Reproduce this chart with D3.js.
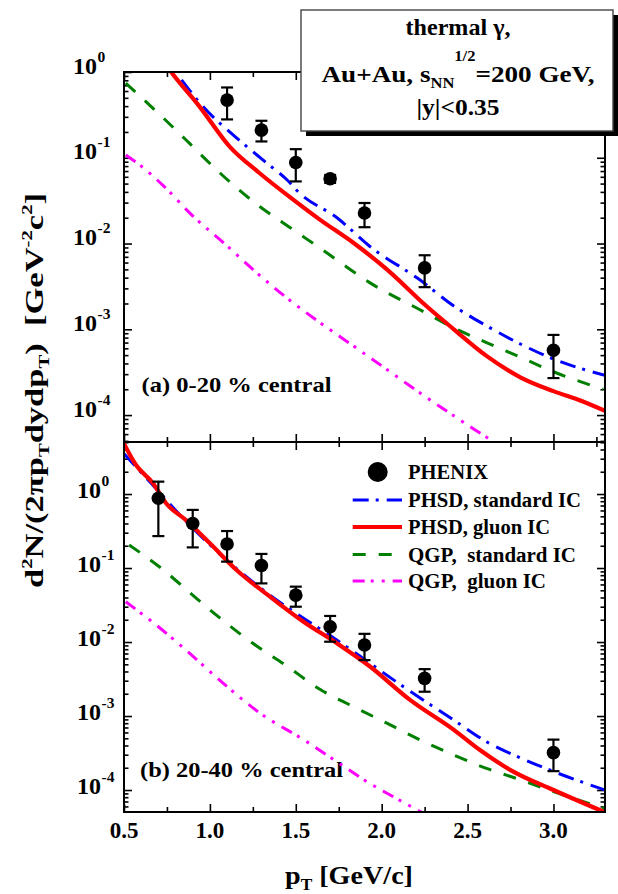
<!DOCTYPE html>
<html><head><meta charset="utf-8">
<script src="https://cdn.jsdelivr.net/npm/d3@7"></script>
<style>
body{margin:0;background:#fff}
svg{display:block}
text{font-family:"Liberation Serif","Times New Roman",serif;font-weight:bold;fill:#000;white-space:pre}
</style>
</head><body><svg id="c" width="618" height="894"></svg>
<script>
// ---------- data ----------
const xTickMajor = [0.5, 1.0, 1.5, 2.0, 2.5, 3.0];
const xTickLabels = ["0.5", "1.0", "1.5", "2.0", "2.5", "3.0"];
const xTickMinor = [0.75, 1.25, 1.75, 2.25, 2.75, 3.25];
const yDecades = [0, -1, -2, -3, -4];

// panel (a) 0-20 % central : PHENIX data
const ptA = [1.1, 1.3, 1.5, 1.7, 1.9, 2.25, 3.0];
const yA = [0.47, 0.21, 0.088, 0.057, 0.0227, 0.0052, 5.7e-4];
const yAhi = [0.66, 0.27, 0.126, 0.063, 0.0297, 0.0073, 8.6e-4];
const yAlo = [0.28, 0.155, 0.053, 0.051, 0.0155, 0.0031, 2.7e-4];

// panel (a) curves
const phsdStdA_pt = [0.835, 0.96, 1.135, 1.33, 1.45, 1.52, 1.74, 1.93, 2.22, 2.42, 2.61, 2.81, 3.0, 3.3];
const phsdStdA_y = [0.81, 0.395, 0.185, 0.087, 0.055, 0.039, 0.020, 0.0093, 0.0038, 0.00187, 0.0011, 6.7e-4, 4.5e-4, 2.9e-4];
const phsdGluA_pt = [0.76, 0.775, 0.94, 1.115, 1.29, 1.485, 1.64, 1.835, 2.03, 2.26, 2.42, 2.61, 2.81, 3.0, 3.16, 3.3];
const phsdGluA_y = [1.1, 1.0, 0.395, 0.135, 0.066, 0.0325, 0.019, 0.0102, 0.005, 0.00187, 0.001, 4.9e-4, 2.74e-4, 1.9e-4, 1.47e-4, 1.12e-4];
const qgpStdA_pt = [0.51, 0.71, 0.86, 1.06, 1.29, 1.485, 1.68, 1.93, 2.22, 2.42, 2.61, 2.81, 3.0, 3.29];
const qgpStdA_y = [0.74, 0.316, 0.162, 0.066, 0.027, 0.0145, 0.0078, 0.0035, 0.0017, 0.00104, 7.0e-4, 4.7e-4, 3.2e-4, 2.0e-4];
const qgpGluA_pt = [0.51, 0.59, 0.73, 0.90, 1.08, 1.25, 1.45, 1.64, 1.835, 2.03, 2.22, 2.42, 2.535, 2.65];
const qgpGluA_y = [0.108, 0.083, 0.047, 0.021, 0.0102, 0.005, 0.0023, 0.0012, 6.4e-4, 3.4e-4, 1.83e-4, 9.8e-5, 6.9e-5, 4.9e-5];

// panel (b) 20-40 % central : PHENIX data
const ptB = [0.7, 0.9, 1.1, 1.3, 1.5, 1.7, 1.9, 2.25, 3.0];
const yB = [0.875, 0.40, 0.211, 0.108, 0.043, 0.0161, 0.0091, 0.00323, 3.2e-4];
const yBhi = [1.47, 0.61, 0.316, 0.155, 0.056, 0.0225, 0.0129, 0.0043, 4.8e-4];
const yBlo = [0.27, 0.19, 0.122, 0.062, 0.030, 0.0101, 0.0057, 0.00213, 1.8e-4];

// panel (b) curves
const phsdStdB_pt = [0.5, 0.67, 0.86, 1.155, 1.35, 1.545, 1.74, 1.93, 2.125, 2.42, 2.61, 2.81, 3.0, 3.3];
const phsdStdB_y = [3.5, 1.3, 0.43, 0.098, 0.043, 0.021, 0.0106, 0.0052, 0.0025, 8.8e-4, 4.5e-4, 2.7e-4, 1.78e-4, 1.0e-4];
const phsdGluB_pt = [0.5, 0.57, 0.67, 0.745, 0.86, 1.0, 1.155, 1.35, 1.545, 1.74, 1.93, 2.165, 2.42, 2.57, 2.75, 3.0, 3.3];
const phsdGluB_y = [4.8, 2.47, 1.39, 0.75, 0.445, 0.216, 0.094, 0.041, 0.0188, 0.0096, 0.0047, 0.00165, 6.5e-4, 3.5e-4, 1.86e-4, 1.0e-4, 5.0e-5];
const qgpStdB_pt = [0.53, 0.73, 0.90, 1.06, 1.25, 1.45, 1.64, 1.835, 2.03, 2.22, 2.42, 2.61, 2.81, 3.0, 3.3];
const qgpStdB_y = [0.205, 0.094, 0.043, 0.021, 0.0096, 0.0047, 0.0023, 0.00134, 8.0e-4, 4.8e-4, 2.97e-4, 1.96e-4, 1.37e-4, 9.5e-5, 5.6e-5];
const qgpGluB_pt = [0.51, 0.70, 0.86, 1.10, 1.29, 1.545, 1.74, 1.93, 2.085, 2.24];
const qgpGluB_y = [0.035, 0.0161, 0.0078, 0.0025, 0.0011, 4.8e-4, 2.4e-4, 1.23e-4, 7.7e-5, 4.9e-5];

const seriesNames = ["PHENIX", "PHSD, standard IC", "PHSD, gluon IC", "QGP,  standard IC", "QGP,  gluon IC"];

// ---------- styles ----------
const styles = {
  std:  {color: "#0000ff", width: 3, dash: "16,7,3,8"},
  glu:  {color: "#ff0000", width: 4.2, dash: null},
  qstd: {color: "#007f00", width: 3, dash: "13,13"},
  qglu: {color: "#ff00ff", width: 3, dash: "12,6,3,8,3,8"}
};
const legendWidths = [80, 173, 142, 168, 138];

const svg = d3.select("#c");
const L = 124, R = 605;
const x = d3.scaleLinear().domain([0.5, 3.3]).range([L, R]);

function fit(sel, len) { return sel.attr("textLength", len).attr("lengthAdjust", "spacingAndGlyphs"); }

const panels = [
  {top: 72, bot: 442, y: d3.scaleLog().domain([Math.pow(10, -4.314), 1]).range([442, 72]),
   pt: ptA, val: yA, hi: yAhi, lo: yAlo, labEnd: 97, labDy: 1.5,
   curves: [["qglu", qgpGluA_pt, qgpGluA_y], ["qstd", qgpStdA_pt, qgpStdA_y], ["std", phsdStdA_pt, phsdStdA_y], ["glu", phsdGluA_pt, phsdGluA_y]],
   label: "(a) 0-20 % central", lx: 141.5, ly: 391.5, lw: 190},
  {top: 442, bot: 812, y: d3.scaleLog().domain([Math.pow(10, -4.297), Math.pow(10, 0.703)]).range([812, 442]),
   pt: ptB, val: yB, hi: yBhi, lo: yBlo, labEnd: 101, labDy: 3.5,
   curves: [["qglu", qgpGluB_pt, qgpGluB_y], ["qstd", qgpStdB_pt, qgpStdB_y], ["std", phsdStdB_pt, phsdStdB_y], ["glu", phsdGluB_pt, phsdGluB_y]],
   label: "(b) 20-40 % central", lx: 140, ly: 777, lw: 203}
];

panels.forEach((p, i) => {
  const g = svg.append("g");
  const clipId = "clip" + i;
  svg.append("clipPath").attr("id", clipId).append("rect")
    .attr("x", L).attr("y", p.top).attr("width", R - L).attr("height", p.bot - p.top);

  const yMinor = [];
  for (let k = -5; k <= 1; k++) for (let m = 2; m <= 9; m++) {
    const v = m * Math.pow(10, k);
    if (v > p.y.domain()[0] && v < p.y.domain()[1]) yMinor.push(v);
  }
  const yMajor = yDecades.map(d => Math.pow(10, d));

  const tickStyle = sel => { sel.select(".domain").remove(); sel.selectAll("line").attr("stroke", "#000").attr("stroke-width", 1.6); };

  g.append("g").attr("transform", `translate(${L},0)`).call(d3.axisLeft(p.y).tickValues(yMajor).tickSize(-8).tickFormat("")).call(tickStyle);
  g.append("g").attr("transform", `translate(${L},0)`).call(d3.axisLeft(p.y).tickValues(yMinor).tickSize(-4.5).tickFormat("")).call(tickStyle);
  g.append("g").attr("transform", `translate(${R},0)`).call(d3.axisRight(p.y).tickValues(yMajor).tickSize(-8).tickFormat("")).call(tickStyle);
  g.append("g").attr("transform", `translate(${R},0)`).call(d3.axisRight(p.y).tickValues(yMinor).tickSize(-4.5).tickFormat("")).call(tickStyle);
  g.append("g").attr("transform", `translate(0,${p.bot})`).call(d3.axisBottom(x).tickValues(xTickMajor).tickSize(-8).tickFormat("")).call(tickStyle);
  g.append("g").attr("transform", `translate(0,${p.bot})`).call(d3.axisBottom(x).tickValues(xTickMinor).tickSize(-5).tickFormat("")).call(tickStyle);
  g.append("g").attr("transform", `translate(0,${p.top})`).call(d3.axisTop(x).tickValues(xTickMajor).tickSize(-8).tickFormat("")).call(tickStyle);
  g.append("g").attr("transform", `translate(0,${p.top})`).call(d3.axisTop(x).tickValues(xTickMinor).tickSize(-5).tickFormat("")).call(tickStyle);

  yDecades.forEach(d => {
    const yy = p.y(Math.pow(10, d)) + p.labDy;
    g.append("text").attr("x", p.labEnd).attr("y", yy).attr("text-anchor", "end").attr("font-size", 24).text("10");
    g.append("text").attr("x", p.labEnd + 0.5).attr("y", yy - 12).attr("font-size", 15.5).text(String(d));
  });

  fit(g.append("text").attr("x", p.lx).attr("y", p.ly).attr("font-size", 22).text(p.label), p.lw);

  const cg = g.append("g").attr("clip-path", `url(#${clipId})`);
  p.curves.forEach(([key, xs, ys]) => {
    const st = styles[key];
    const line = d3.line().x(d => x(d[0])).y(d => p.y(d[1])).curve(d3.curveMonotoneX);
    cg.append("path").datum(xs.map((v, j) => [v, ys[j]]))
      .attr("d", line).attr("fill", "none").attr("stroke", st.color)
      .attr("stroke-width", st.width).attr("stroke-dasharray", st.dash);
  });

  const dg = g.append("g");
  p.pt.forEach((v, j) => {
    const cx = x(v);
    dg.append("line").attr("x1", cx).attr("x2", cx).attr("y1", p.y(p.hi[j])).attr("y2", p.y(p.lo[j])).attr("stroke", "#000").attr("stroke-width", 2.2);
    [p.hi[j], p.lo[j]].forEach(e => dg.append("line").attr("x1", cx - 6).attr("x2", cx + 6).attr("y1", p.y(e)).attr("y2", p.y(e)).attr("stroke", "#000").attr("stroke-width", 2.2));
    dg.append("circle").attr("cx", cx).attr("cy", p.y(p.val[j])).attr("r", 6.8).attr("fill", "#000");
  });

  g.append("rect").attr("x", L).attr("y", p.top).attr("width", R - L).attr("height", p.bot - p.top)
    .attr("fill", "none").attr("stroke", "#000").attr("stroke-width", 2);
});

// x tick labels
xTickMajor.forEach((v, i) => {
  svg.append("text").attr("x", x(v)).attr("y", 838).attr("text-anchor", "middle").attr("font-size", 23).text(xTickLabels[i]);
});

// x title
const xt = svg.append("text").attr("x", 285).attr("y", 884).attr("font-size", 26);
xt.append("tspan").text("p");
xt.append("tspan").attr("font-size", 16).attr("dy", 6).text("T");
xt.append("tspan").attr("dy", -6).text(" [GeV/c]");
fit(xt, 128);

// y title
const yt = svg.append("text").attr("transform", "translate(43,390.5) rotate(-90)").attr("text-anchor", "middle").attr("font-size", 25);
yt.append("tspan").text("d");
yt.append("tspan").attr("font-size", 15).attr("dy", -11).text("2");
yt.append("tspan").attr("dy", 11).text("N/(2πp");
yt.append("tspan").attr("font-size", 15).attr("dy", 6).text("T");
yt.append("tspan").attr("dy", -6).text("dydp");
yt.append("tspan").attr("font-size", 15).attr("dy", 6).text("T");
yt.append("tspan").attr("dy", -6).text(")  [GeV");
yt.append("tspan").attr("font-size", 15).attr("dy", -11).text("-2");
yt.append("tspan").attr("dy", 11).text("c");
yt.append("tspan").attr("font-size", 15).attr("dy", -11).text("2");
yt.append("tspan").attr("dy", 11).text("]");
fit(yt, 395);

// legend (panel b)
const leg = svg.append("g");
leg.append("circle").attr("cx", 377.7).attr("cy", 472).attr("r", 10).attr("fill", "#000");
fit(leg.append("text").attr("x", 408).attr("y", 479).attr("font-size", 20).text(seriesNames[0]), legendWidths[0]);
[["std", 500], ["glu", 527], ["qstd", 554.5], ["qglu", 581]].forEach(([key, yy], i) => {
  const st = styles[key];
  leg.append("line").attr("x1", 352.7).attr("x2", 402).attr("y1", yy).attr("y2", yy)
    .attr("stroke", st.color).attr("stroke-width", st.width).attr("stroke-dasharray", st.dash);
  fit(leg.append("text").attr("x", 408).attr("y", yy + 7).attr("font-size", 20).text(seriesNames[i + 1]), legendWidths[i + 1]);
});

// text box
const bx = 301, by = 10, bw = 312, bh = 121;
svg.append("rect").attr("x", bx + 5).attr("y", by + 5).attr("width", bw).attr("height", bh).attr("fill", "#000");
svg.append("rect").attr("x", bx).attr("y", by).attr("width", bw).attr("height", bh).attr("fill", "#fff").attr("stroke", "#444").attr("stroke-width", 1.4);
const cxText = 458;
fit(svg.append("text").attr("x", cxText).attr("y", 35).attr("text-anchor", "middle").attr("font-size", 23).text("thermal γ,"), 105);
const t2 = svg.append("text").attr("x", cxText).attr("y", 82).attr("text-anchor", "middle").attr("font-size", 23);
t2.append("tspan").text("Au+Au, s");
t2.append("tspan").attr("font-size", 14).attr("dy", 6).text("NN");
t2.append("tspan").attr("font-size", 14).attr("dy", -27).text("1/2");
t2.append("tspan").attr("dy", 21).text("=200 GeV,");
fit(t2, 273);
fit(svg.append("text").attr("x", cxText).attr("y", 115).attr("text-anchor", "middle").attr("font-size", 23).text("|y|<0.35"), 83);
</script>
</body></html>
